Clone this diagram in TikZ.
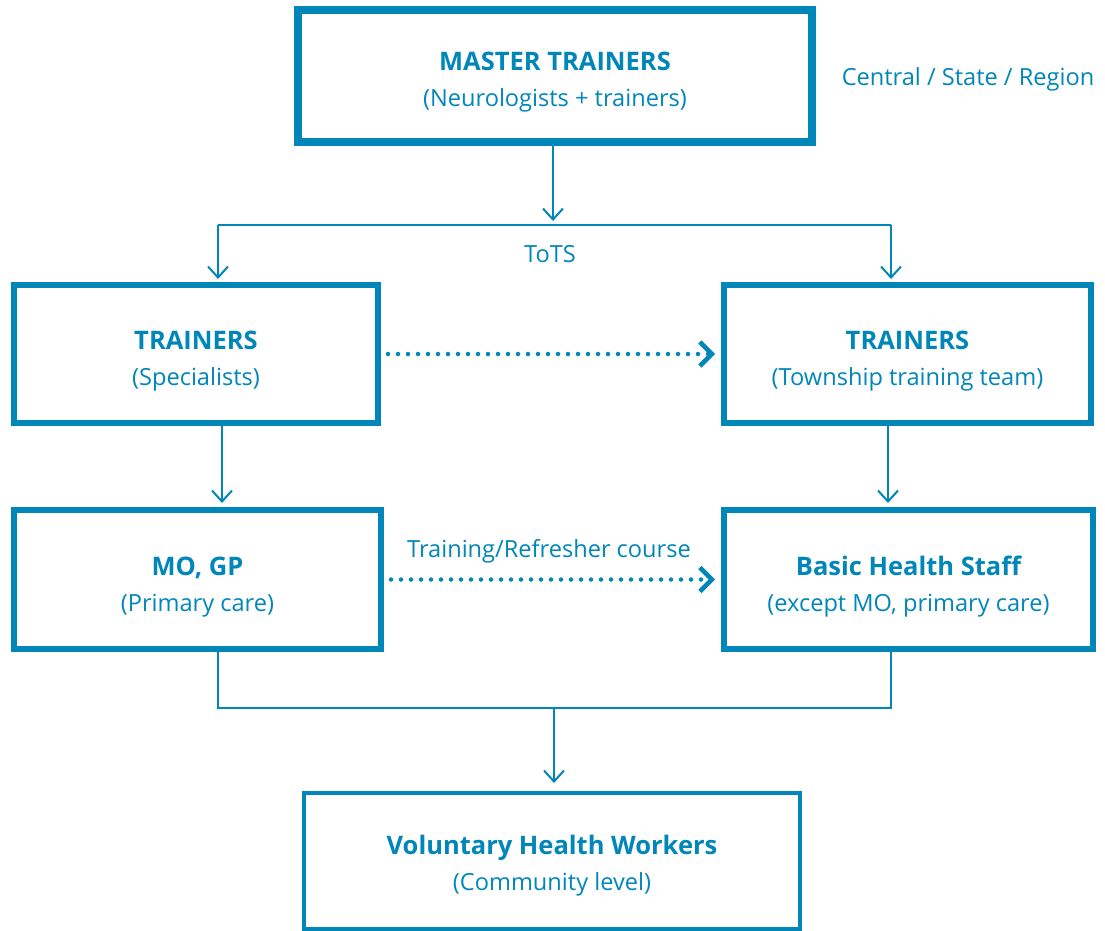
\documentclass[tikz,border=0pt]{standalone}
\usepackage{fontspec}
\setmainfont{Open Sans}
\usetikzlibrary{arrows.meta}
\definecolor{tblue}{RGB}{0,134,185}
\newcommand{\boxhead}[2][31pt]{{\fontsize{25.5}{36}\selectfont\bfseries\rule{0pt}{#1}#2}}
\begin{document}
\begin{tikzpicture}[x=1pt,y=-1pt,
  box/.style={draw=tblue, line width=6pt, minimum height=138pt, inner sep=0pt,
    align=center, text=tblue, font=\fontsize{23.6}{36}\selectfont},
  lbl/.style={text=tblue, inner sep=0pt, font=\fontsize{23.6}{28}\selectfont},
  wire/.style={draw=tblue, line width=2pt},
  link/.style={wire, -{Straight Barb[length=11pt,width=20pt,line width=2pt]}},
  dotlink/.style={draw=tblue, line width=4.5pt, line cap=round,
    dash pattern=on 0pt off 10pt,
    -{Straight Barb[length=12pt,width=24pt,line width=4.5pt]}}]
\useasboundingbox (0,0) rectangle (1105,931);
\node[box, line width=8pt, minimum width=514pt, minimum height=132pt] (master) at (555,76)
  {\boxhead{MASTER TRAINERS}\\(Neurologists + trainers)};
\node[lbl] (level) at (968,79) {Central / State / Region};
\node[box, minimum width=364pt] (trL) at (196,354) {\boxhead[33pt]{TRAINERS}\\(Specialists)};
\node[box, minimum width=367pt] (trR) at (907.5,354) {\boxhead[33pt]{TRAINERS}\\(Township training team)};
\node[box, minimum width=367pt, minimum height=139pt] (moL) at (197.5,579.5) {\boxhead[34pt]{MO, GP}\\(Primary care)};
\node[box, minimum width=369pt, minimum height=139pt] (bhs) at (908.5,579.5) {\boxhead[34pt]{Basic Health Staff}\\(except MO, primary care)};
\node[box, line width=4pt, minimum width=496pt, minimum height=136pt] (vhw) at (552,861)
  {\boxhead[28pt]{Voluntary Health Workers}\\(Community level)};
\node[lbl] (tots) at (550,254) {ToTS};
\node[lbl] (course) at (549,551) {Training/Refresher course};
% top fork
\coordinate (fork) at (553,225);
\coordinate (forkL) at (218,225);
\coordinate (forkR) at (891,225);
\draw[link, shorten >=4pt] (master.south -| fork) -- (fork);
\draw[wire] (forkL) -- (forkR);
\draw[link, shorten >=3pt] (forkL) -- (forkL |- trL.north);
\draw[link, shorten >=3pt] (forkR) -- (forkR |- trR.north);
% dotted links
\draw[dotlink, shorten <=7pt, shorten >=6pt] (trL.east) -- (trR.west);
\draw[dotlink, shorten <=7pt, shorten >=6pt] (moL.east |- bhs.west) -- (bhs.west);
% down links
\draw[link, shorten >=4pt] ([xshift=26pt]trL.south) -- ([xshift=26pt]trL.south |- moL.north);
\draw[link, shorten >=4pt] ([xshift=-19.5pt]trR.south) -- ([xshift=-19.5pt]trR.south |- bhs.north);
% bottom join
\coordinate (join) at (554,708);
\coordinate (joinL) at (218,708);
\coordinate (joinR) at (891,708);
\draw[wire] ([yshift=1pt]joinL |- moL.south) -- (joinL) -- (joinR) -- ([yshift=1pt]joinR |- bhs.south);
\draw[link, shorten >=8pt] (join) -- (join |- vhw.north);
\end{tikzpicture}
\end{document}
